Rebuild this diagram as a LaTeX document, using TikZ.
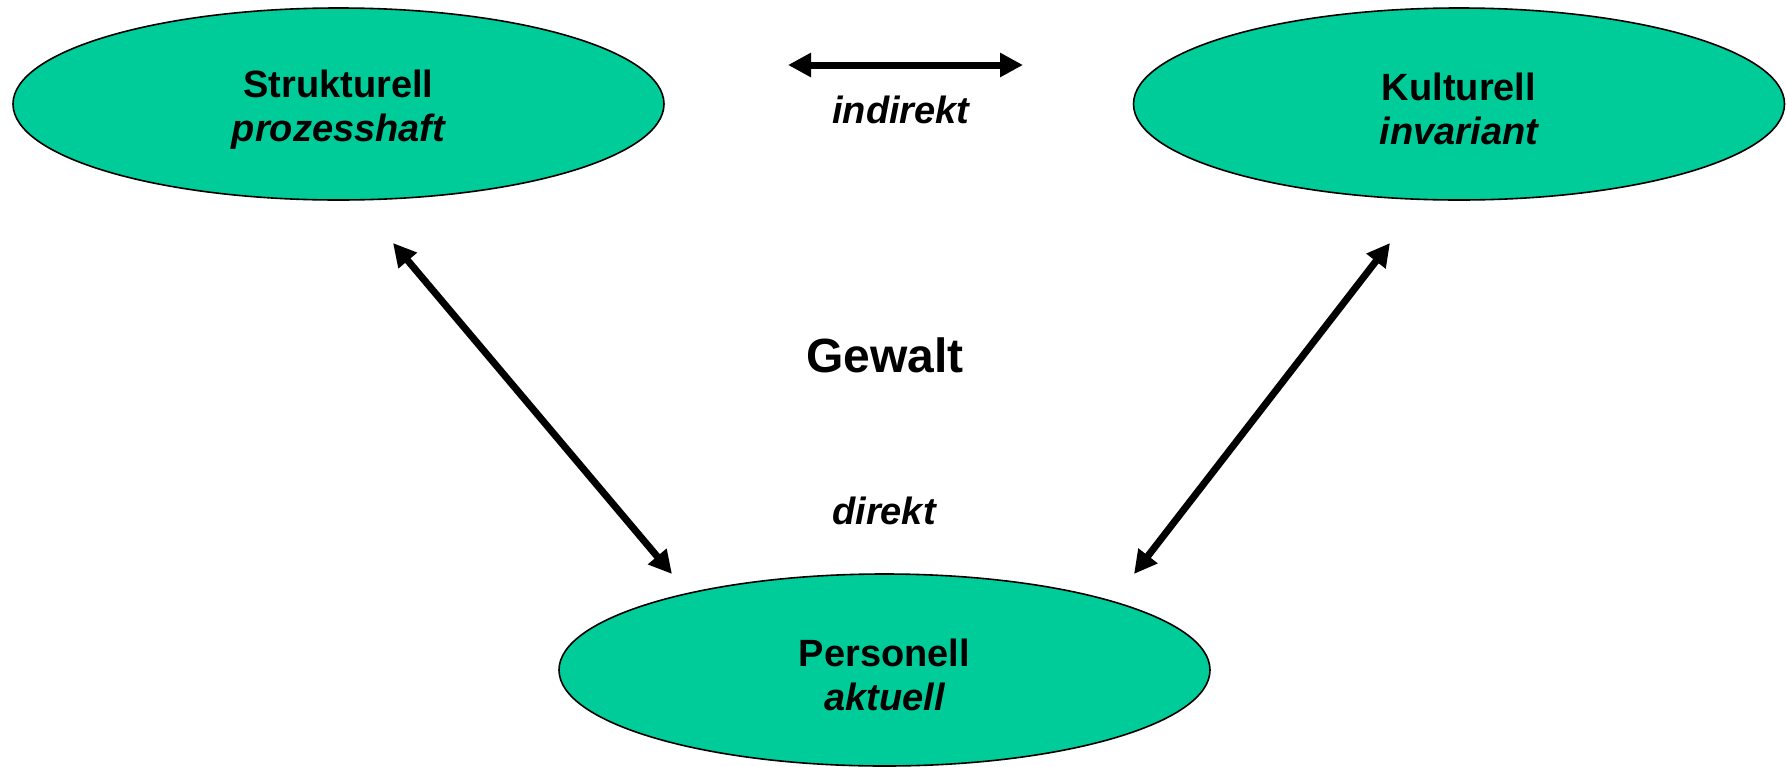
\documentclass[tikz,border=0pt]{standalone}
\usepackage{fontspec}
\setmainfont{Liberation Sans}
\usepackage{xcolor}
\usepackage{tikz}
\usetikzlibrary{positioning, shapes.geometric, arrows.meta}
\tikzset{
	gruppe/.style={ellipse, draw=black, line width=1.6pt, fill=TuerkisGruen, minimum width=651pt, minimum height=192pt, inner sep=0pt, align=center, text height=82pt, font=\fontsize{38}{44}\selectfont\bfseries},
	pfeil/.style={{Triangle[length=23pt,width=23pt]}-{Triangle[length=23pt,width=23pt]}, line width=7pt},
	beschriftung/.style={font=\fontsize{38}{44}\selectfont\bfseries\itshape},
}
\definecolor{TuerkisGruen}{RGB}{0, 204, 153}

\begin{document}
\begin{tikzpicture}[x=1pt, y=-1pt]%[show background grid]
	\useasboundingbox (0,0) rectangle (1786,766);
	\node[gruppe] (struk) at (338.5,104) {Strukturell\\\itshape prozesshaft};
	\node[gruppe] (kult) at (1459,104) {Kulturell\\\itshape invariant};
	\node[gruppe] (pers) at (884.5,670) {Personell\\\itshape aktuell};
	
	\node[font=\fontsize{48}{56}\selectfont\bfseries] (gewalt) at (885,355) {Gewalt};
	\node[beschriftung] (indirekt) at (901,110) {indirekt};
	\node[beschriftung] (direkt) at (884,511) {direkt};
	
	\coordinate (sk1) at (788,65);
	\coordinate (sk2) at (1023,65);
	\coordinate (sp1) at (393,243);
	\coordinate (sp2) at (672,574);
	\coordinate (kp1) at (1390,243);
	\coordinate (kp2) at (1134,574);
	\draw[pfeil] (sk1) -- (sk2);
	\draw[pfeil] (sp1) -- (sp2);
	\draw[pfeil] (kp1) -- (kp2);
\end{tikzpicture}
\end{document}
